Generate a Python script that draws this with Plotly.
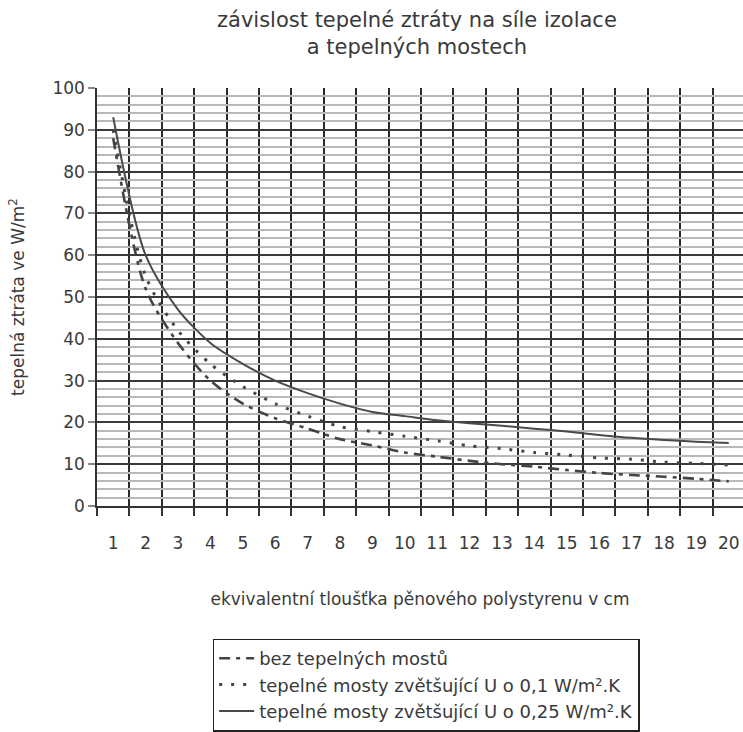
import plotly.graph_objects as go

thickness_cm = list(range(1, 21))
x_labels = [str(v) for v in thickness_cm]

loss_no_bridges = [88, 52, 39, 30, 24.5, 21, 18.5, 16, 14.5, 12.8,
                   11.8, 10.8, 10, 9.4, 8.6, 7.9, 7.4, 7, 6.5, 5.9]
loss_bridges_01 = [90, 55, 42, 34, 28.6, 24.5, 21.5, 19, 17.8, 16.7,
                   15.6, 14.4, 13.7, 12.8, 12.2, 11.5, 11.2, 10.5, 10.2, 9.8]
loss_bridges_025 = [93, 60, 47, 39, 34, 30, 27, 24.5, 22.5, 21.5,
                    20.5, 19.8, 19.2, 18.5, 17.8, 17, 16.3, 15.8, 15.4, 15.1]

series_names = [
    "bez tepelných mostů",
    "tepelné mosty zvětšující U o 0,1 W/m².K",
    "tepelné mosty zvětšující U o 0,25 W/m².K",
]

y_major = list(range(0, 101, 10))
y_minor = list(range(0, 101, 2))
x_bounds = [v + 0.5 for v in range(0, 21)]

ink = "#3a3a3a"
font_family = "DejaVu Sans, Verdana, sans-serif"

fig = go.Figure()
fig.add_trace(go.Scatter(
    x=thickness_cm, y=loss_no_bridges, name=series_names[0], mode="lines",
    line=dict(color="#444444", width=2.6, dash="11px,6px,4px,6px", shape="spline", smoothing=0.8),
))
fig.add_trace(go.Scatter(
    x=thickness_cm, y=loss_bridges_01, name=series_names[1], mode="lines",
    line=dict(color="#444444", width=3, dash="3px,9px", shape="spline", smoothing=0.8),
))
fig.add_trace(go.Scatter(
    x=thickness_cm, y=loss_bridges_025, name=series_names[2], mode="lines",
    line=dict(color="#4a4a4a", width=2, shape="spline", smoothing=0.8),
))

fig.update_layout(
    width=743, height=732,
    margin=dict(l=97, r=0, t=88, b=224),
    paper_bgcolor="white", plot_bgcolor="white",
    font=dict(family=font_family, color=ink),
    showlegend=True,
    legend=dict(
        x=0.179, y=-0.317, xanchor="left", yanchor="top",
        bordercolor="#222222", borderwidth=1.5, bgcolor="white",
        font=dict(size=18, color=ink, family=font_family),
        itemwidth=35, traceorder="normal",
    ),
    annotations=[dict(
        text="závislost tepelné ztráty na síle izolace<br>a tepelných mostech",
        xref="paper", yref="paper", x=0.496, y=1.131,
        xanchor="center", yanchor="middle", showarrow=False,
        font=dict(size=21, color=ink, family=font_family),
    )],
)

fig.update_xaxes(
    range=[0.5, 20.44], automargin=False,
    tickmode="array", tickvals=thickness_cm, ticktext=x_labels,
    showgrid=False, ticks="", tickfont=dict(size=17, color=ink),
    ticklabelstandoff=21,
    showline=True, linecolor="#333333", linewidth=1.5,
    minor=dict(tickmode="array", tickvals=x_bounds, showgrid=True,
               gridcolor="#2a2a2a", gridwidth=1.6, ticks="outside",
               ticklen=8, tickcolor="#333333", tickwidth=1.5),
    title=dict(text="ekvivalentní tloušťka pěnového polystyrenu v cm",
               font=dict(size=17, color=ink), standoff=41),
    zeroline=False,
)

fig.update_yaxes(
    range=[0, 100], automargin=False,
    tickmode="array", tickvals=y_major,
    showgrid=True, gridcolor="#3a3a3a", gridwidth=1.5,
    ticks="outside", ticklen=7, tickcolor="#888888", tickwidth=1.5,
    tickfont=dict(size=17, color=ink),
    minor=dict(tickmode="array", tickvals=y_minor, showgrid=True,
               gridcolor="#b8b8b8", gridwidth=2),
    showline=True, linecolor="#333333", linewidth=1.5,
    title=dict(text="tepelná ztráta ve W/m<sup>2</sup>", font=dict(size=17, color=ink), standoff=23),
    zeroline=False,
)

fig.write_html("out.html", config={"displayModeBar": False},
               post_script="document.body.style.margin='0';")
